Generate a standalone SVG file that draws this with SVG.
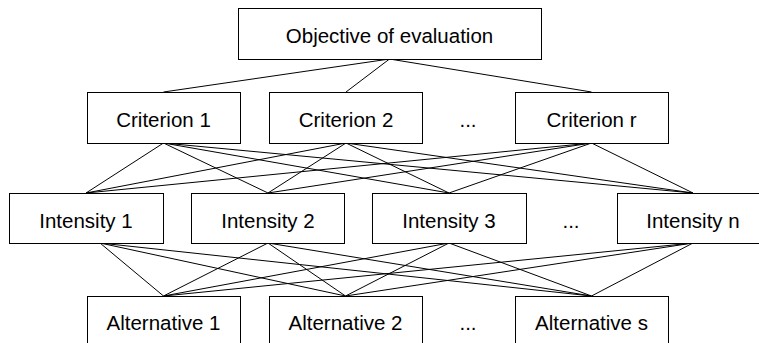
<svg xmlns="http://www.w3.org/2000/svg" width="759" height="343" viewBox="0 0 759 343">
<style>
rect{fill:#fff;stroke:#000;stroke-width:1}
text{font-family:"Liberation Sans",Arial,sans-serif;font-size:20.5px;fill:#000;text-anchor:middle}
.c line{stroke:#000;stroke-width:1}
</style>
<rect x="0" y="0" width="759" height="343" style="stroke:none"/>
<g class="c" id="connectors">
<line x1="389.5" y1="59" x2="163.5" y2="92"/>
<line x1="389.5" y1="59" x2="346" y2="92"/>
<line x1="389.5" y1="59" x2="591.5" y2="92"/>
<line x1="163.5" y1="143" x2="86" y2="193"/>
<line x1="163.5" y1="143" x2="268" y2="193"/>
<line x1="163.5" y1="143" x2="449" y2="193"/>
<line x1="163.5" y1="143" x2="693" y2="193"/>
<line x1="346" y1="143" x2="86" y2="193"/>
<line x1="346" y1="143" x2="268" y2="193"/>
<line x1="346" y1="143" x2="449" y2="193"/>
<line x1="346" y1="143" x2="693" y2="193"/>
<line x1="591.5" y1="143" x2="86" y2="193"/>
<line x1="591.5" y1="143" x2="268" y2="193"/>
<line x1="591.5" y1="143" x2="449" y2="193"/>
<line x1="591.5" y1="143" x2="693" y2="193"/>
<line x1="100" y1="243" x2="163.5" y2="296"/>
<line x1="100" y1="243" x2="345.5" y2="296"/>
<line x1="100" y1="243" x2="591.5" y2="296"/>
<line x1="268" y1="243" x2="163.5" y2="296"/>
<line x1="268" y1="243" x2="345.5" y2="296"/>
<line x1="268" y1="243" x2="591.5" y2="296"/>
<line x1="449" y1="243" x2="163.5" y2="296"/>
<line x1="449" y1="243" x2="345.5" y2="296"/>
<line x1="449" y1="243" x2="591.5" y2="296"/>
<line x1="693" y1="243" x2="163.5" y2="296"/>
<line x1="693" y1="243" x2="345.5" y2="296"/>
<line x1="693" y1="243" x2="591.5" y2="296"/>
</g>
<g id="objective"><rect x="238.5" y="8.5" width="303" height="51"/><text x="389.5" y="43">Objective of evaluation</text></g>
<g id="criterion1"><rect x="87.5" y="92.5" width="153" height="51"/><text x="163.5" y="127">Criterion 1</text></g>
<g id="criterion2"><rect x="269.5" y="92.5" width="153" height="51"/><text x="346" y="127">Criterion 2</text></g>
<text x="468" y="127">...</text>
<g id="criterionr"><rect x="515.5" y="92.5" width="153" height="51"/><text x="591.5" y="127">Criterion r</text></g>
<g id="intensity1"><rect x="9.5" y="193.5" width="154" height="50"/><text x="86" y="228">Intensity 1</text></g>
<g id="intensity2"><rect x="191.5" y="193.5" width="153" height="50"/><text x="268" y="228">Intensity 2</text></g>
<g id="intensity3"><rect x="372.5" y="193.5" width="154" height="50"/><text x="449" y="228">Intensity 3</text></g>
<text x="571" y="228">...</text>
<g id="intensityn"><rect x="617.5" y="193.5" width="153" height="50"/><text x="693" y="228">Intensity n</text></g>
<g id="alternative1"><rect x="87.5" y="296.5" width="153" height="60"/><text x="163.5" y="330">Alternative 1</text></g>
<g id="alternative2"><rect x="269.5" y="296.5" width="153" height="60"/><text x="345.5" y="330">Alternative 2</text></g>
<text x="468" y="330">...</text>
<g id="alternatives"><rect x="515.5" y="296.5" width="153" height="60"/><text x="591.5" y="330">Alternative s</text></g>
</svg>
